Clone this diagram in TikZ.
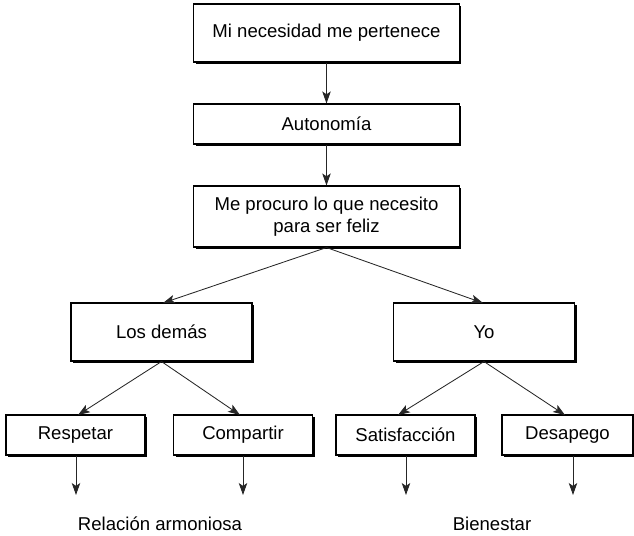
\documentclass[tikz,border=0pt]{standalone}
\usepackage{fontspec}
\setmainfont{Liberation Sans}
\usetikzlibrary{arrows.meta, shadows}

\tikzset{
  box/.style={draw, line width=0.75pt, fill=white, align=center, inner sep=0pt,
    drop shadow={shadow xshift=1.5pt, shadow yshift=-1.5pt, fill=black, opacity=1}},
  widebox/.style={box, minimum width=6.625cm},
  midbox/.style={box, minimum width=4.525cm, minimum height=1.45cm},
  smallbox/.style={box, minimum width=3.475cm, minimum height=1cm},
  link/.style={-{Stealth[length=8.5pt,width=6pt,inset=2pt]}, black!85, line width=0.6pt},
}

\begin{document}
\begin{tikzpicture}[x=0.025cm, y=-0.025cm, font=\fontsize{13.2}{15.6}\selectfont]
  \useasboundingbox (0,0) rectangle (634,535);
  % chain down the middle
  \node[widebox, minimum height=1.45cm] (need) at (326.5,33) {Mi necesidad me pertenece};
  \node[widebox, minimum height=1cm] (auto) at (326.5,124) {Autonomía};
  \node[widebox, minimum height=1.525cm] (feliz) at (326.5,216.5) {Me procuro lo que necesito\\para ser feliz};
  \draw[link] (need) -- (auto);
  \draw[link] (auto) -- (feliz);

  % two branches
  \node[midbox] (demas) at (161.5,332) {Los demás};
  \node[midbox] (yo) at (484,332) {Yo};
  \draw[link] (feliz.south) -- (163,303);
  \draw[link] (feliz.south) -- (483,303);

  \node[smallbox] (resp) at (75.5,435) {Respetar};
  \node[smallbox] (comp) at (243,435) {Compartir};
  \node[smallbox] (sat) at (405.5,435) {Satisfacción};
  \node[smallbox, minimum width=3.275cm] (desp) at (567.5,435) {Desapego};
  \draw[link] (demas.south) -- (78,415);
  \draw[link] (demas.south) -- (240,415);
  \draw[link] (yo.south) -- (398,415);
  \draw[link] (yo.south) -- (565,415);

  % outcomes
  \coordinate (e1) at (76,495);
  \coordinate (e2) at (243,495);
  \coordinate (e3) at (406,495);
  \coordinate (e4) at (573,495);
  \draw[link] (resp.south -| e1) -- (e1);
  \draw[link] (comp.south -| e2) -- (e2);
  \draw[link] (sat.south -| e3) -- (e3);
  \draw[link] (desp.south -| e4) -- (e4);
  \node[inner sep=0pt] (armonia) at (160,524) {Relación armoniosa};
  \node[inner sep=0pt] (bien) at (492,524) {Bienestar};
\end{tikzpicture}
\end{document}
